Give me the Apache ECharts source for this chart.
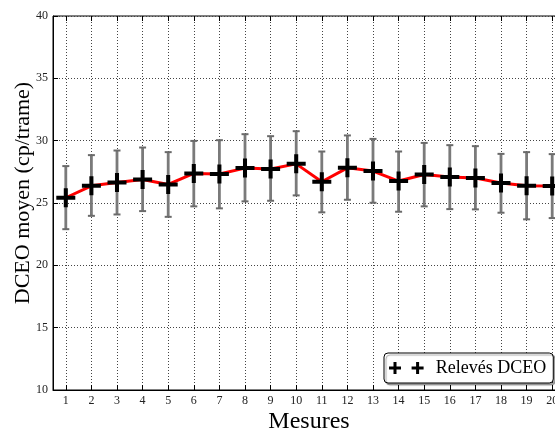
<!DOCTYPE html>
<html>
<head>
<meta charset="utf-8">
<script src="https://cdn.jsdelivr.net/npm/echarts@6/dist/echarts.min.js"></script>
<style>html,body{margin:0;padding:0;background:#fff}#c{width:555px;height:430px}</style>
</head>
<body>
<div id="c"></div>
<script>
var measures = ['1','2','3','4','5','6','7','8','9','10','11','12','13','14','15','16','17','18','19','20'];
var means = [25.42,26.38,26.65,26.89,26.49,27.37,27.32,27.80,27.72,28.14,26.70,27.82,27.56,26.76,27.29,27.08,27.00,26.60,26.38,26.36];
var lows  = [22.90,23.97,24.08,24.35,23.89,24.73,24.57,25.13,25.18,25.61,24.25,25.26,25.02,24.30,24.73,24.51,24.49,24.22,23.69,23.79];
var highs = [27.96,28.84,29.21,29.45,29.08,29.98,30.04,30.52,30.36,30.76,29.13,30.42,30.14,29.13,29.82,29.64,29.56,28.94,29.08,28.92];
var yTicks = [10,15,20,25,30,35,40];
var seriesName = 'Relevés DCEO';

var errData = measures.map(function(m, i){ return [i, lows[i], highs[i]]; });
var FONT = 'Liberation Serif';
var plusPath = 'path://M6.3,0H9.7V16H6.3ZM0,6.3H16V9.7H0Z';
var legendIcon = 'path://M4.5,0H7.5V12H4.5ZM0,4.5H12V7.5H0ZM27.1,0H30.1V12H27.1ZM22.6,4.5H34.6V7.5H22.6Z';

var chart = echarts.init(document.getElementById('c'), null, {renderer:'canvas'});
chart.setOption({
  animation: false,
  backgroundColor: '#fff',
  grid: {left: 53, top: 16, right: -10, bottom: 40, show: true, borderColor: '#000', borderWidth: 1, outerBoundsMode: 'none', containLabel: false},
  legend: {
    data: [{name: seriesName, icon: legendIcon}],
    left: 384, top: 353,
    itemWidth: 35, itemHeight: 12,
    padding: [6, 7, 6, 5],
    backgroundColor: '#fff',
    borderColor: '#000', borderWidth: 1, borderRadius: 4,
    shadowColor: 'rgba(0,0,0,0.35)', shadowBlur: 1, shadowOffsetX: 2, shadowOffsetY: 2,
    textStyle: {fontFamily: FONT, fontSize: 18, color: '#000', padding: [0,0,0,7]},
    itemStyle: {color: '#000', opacity: 1}
  },
  xAxis: [{
    type: 'category', data: measures, boundaryGap: true,
    name: 'Mesures', nameLocation: 'middle', nameGap: 20, nameMoveOverlap: false,
    nameTextStyle: {fontFamily: FONT, fontSize: 24, color: '#000'},
    axisLine: {show: true, lineStyle: {color: '#000', width: 1}},
    axisTick: {show: true, inside: true, length: 5, alignWithLabel: true, lineStyle: {color: '#000'}},
    axisLabel: {fontFamily: FONT, fontSize: 12, color: '#222', margin: 5},
    splitLine: {show: true, alignWithLabel: true, lineStyle: {color: '#444', width: 1, type: [1, 2]}}
  }, {
    type: 'category', data: measures, boundaryGap: true, position: 'top',
    axisLine: {show: false},
    axisTick: {show: true, inside: true, length: 5, alignWithLabel: true, lineStyle: {color: '#000'}},
    axisLabel: {show: false},
    splitLine: {show: false}
  }],
  yAxis: {
    type: 'value', min: 10, max: 40, interval: 5,
    name: 'DCEO moyen (cp/trame)', nameLocation: 'middle', nameGap: 19, nameRotate: 90, nameMoveOverlap: false,
    nameTextStyle: {fontFamily: FONT, fontSize: 22, color: '#000', padding: [0, 0, 0, 20]},
    axisLine: {show: true, lineStyle: {color: '#000', width: 1}},
    axisTick: {show: true, inside: true, length: 5, lineStyle: {color: '#000'}},
    axisLabel: {fontFamily: FONT, fontSize: 12, color: '#222', margin: 5},
    splitLine: {show: true, lineStyle: {color: '#444', width: 1, type: [1, 2]}}
  },
  series: [{
    type: 'custom', name: 'err', silent: true, z: 2,
    data: errData,
    renderItem: function(params, api){
      var x = api.value(0);
      var lo = api.coord([x, api.value(1)]);
      var hi = api.coord([x, api.value(2)]);
      var cap = 3.5;
      var st = {stroke: '#7a7a7a', lineWidth: 2.8};
      return {type: 'group', children: [
        {type: 'line', shape: {x1: lo[0], y1: lo[1], x2: hi[0], y2: hi[1]}, style: st},
        {type: 'line', shape: {x1: lo[0]-cap, y1: lo[1], x2: lo[0]+cap, y2: lo[1]}, style: {stroke: '#6a6a6a', lineWidth: 2}},
        {type: 'line', shape: {x1: hi[0]-cap, y1: hi[1], x2: hi[0]+cap, y2: hi[1]}, style: {stroke: '#6a6a6a', lineWidth: 2}}
      ]};
    }
  }, {
    type: 'line', name: 'line', data: means, symbol: 'none', z: 3,
    lineStyle: {color: '#ff0000', width: 3}, silent: true
  }, {
    type: 'scatter', name: seriesName, data: means, z: 4,
    symbol: plusPath, symbolSize: 19,
    itemStyle: {color: '#000', opacity: 1}
  }]
});
</script>
</body>
</html>
